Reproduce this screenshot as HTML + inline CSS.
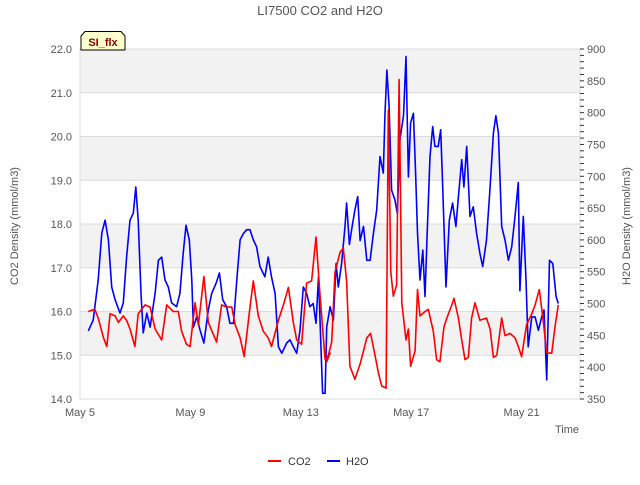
<!DOCTYPE html>
<html><head><meta charset="utf-8"><style>
body{margin:0;background:#fff;}
svg{font-family:"Liberation Sans",sans-serif;}
</style></head><body>
<svg id="chart" width="640" height="480" xmlns="http://www.w3.org/2000/svg"></svg>
<script>
const co2Days=[0.30,0.54,0.66,0.85,0.97,1.09,1.27,1.39,1.57,1.69,1.81,1.99,2.11,2.36,2.54,2.72,2.96,3.14,3.38,3.56,3.68,3.86,3.99,4.17,4.29,4.49,4.65,4.95,5.13,5.31,5.50,5.62,5.80,5.95,6.16,6.28,6.46,6.64,6.82,6.94,7.19,7.37,7.55,7.73,7.85,8.03,8.21,8.39,8.55,8.70,8.88,9.06,
8.94,9.12,9.24,9.42,9.54,9.66,9.78,9.96,10.15,10.27,10.39,10.53,10.69,10.81,10.93,11.09,11.17,11.26,11.35,11.47,11.56,11.66,11.81,11.90,11.98,12.14,12.23,12.32,12.50,12.62,12.80,12.92,13.04,13.19,13.29,13.47,13.55,13.71,13.83,13.95,14.07,14.19,14.31,14.49,14.73,14.86,14.98,15.10,15.28,15.40,15.58,15.76,15.88,16.00,16.18,16.37,16.49,16.64,16.79,16.91,17.09,17.21,17.33];
const co2Values=[16.0,16.05,15.85,15.4,15.2,15.95,15.9,15.75,15.9,15.8,15.6,15.2,15.95,16.15,16.1,15.6,15.35,16.15,16.0,16.0,15.55,15.25,15.2,16.2,15.7,16.8,15.75,15.3,16.15,16.1,16.1,15.7,15.4,14.97,16.1,16.7,15.9,15.55,15.4,15.2,15.8,16.15,16.55,15.75,15.35,15.25,16.65,16.7,17.7,16.35,14.9,15.05,
14.85,15.3,16.9,17.35,17.45,16.7,14.75,14.45,14.8,15.1,15.4,15.5,15.0,14.6,14.3,14.25,20.6,16.9,16.35,16.6,21.3,16.2,15.35,15.6,14.75,15.1,16.5,15.9,16.0,16.05,15.55,14.9,14.85,15.65,15.85,16.15,16.3,15.85,15.35,14.9,14.95,15.85,16.2,15.8,15.85,15.6,14.95,15.0,15.85,15.45,15.5,15.4,15.2,14.97,15.7,15.95,16.15,16.5,15.75,15.05,15.05,15.65,16.15];
const h2oDays=[0.30,0.48,0.66,0.79,0.91,1.03,1.15,1.27,1.45,1.57,1.69,1.81,1.93,2.02,2.11,2.21,2.29,2.42,2.54,2.72,2.84,2.96,3.08,3.20,3.32,3.50,3.62,3.74,3.84,3.96,4.05,4.11,4.23,4.35,4.49,4.65,4.77,4.93,5.05,5.17,5.31,5.43,5.56,5.68,5.80,5.92,6.04,6.16,6.28,6.40,6.52,6.70,6.82,6.94,7.07,7.19,7.31,7.49,7.61,7.73,7.85,7.97,8.09,8.21,8.33,8.45,8.55,8.64,8.72,8.79,
8.88,8.94,9.06,9.18,9.28,9.36,9.48,9.60,9.66,9.76,9.84,9.96,10.06,10.15,10.27,10.39,10.51,10.63,10.75,10.87,10.99,11.05,11.12,11.20,11.29,11.41,11.50,11.59,11.72,11.81,11.90,11.98,12.08,12.16,12.23,12.32,12.42,12.50,12.58,12.68,12.78,12.86,12.98,13.07,13.14,13.26,13.38,13.50,13.62,13.72,13.83,13.91,14.01,14.13,14.25,14.37,14.49,14.59,14.73,14.86,14.98,15.07,15.16,15.28,15.40,15.52,15.64,15.76,15.88,15.94,16.06,16.16,16.24,16.37,16.49,16.61,16.73,16.81,16.91,17.01,17.13,17.25,17.33];
const h2oValues=[457,474,537,611,631,600,526,506,485,501,573,631,642,683,631,516,454,485,463,516,568,573,537,526,501,495,516,579,623,600,537,463,479,458,438,490,516,532,548,506,495,469,469,537,600,610,616,616,600,589,558,542,573,542,516,432,422,438,443,432,422,458,526,516,495,500,469,542,443,359,
359,463,495,474,563,526,563,621,658,593,616,647,668,599,621,568,568,610,647,731,705,799,867,810,678,663,641,757,795,888,699,784,799,705,611,537,584,511,611,731,778,747,747,773,683,526,631,658,621,673,726,683,747,637,652,610,579,558,600,683,768,795,768,621,600,568,589,637,690,520,637,537,432,479,479,458,479,490,380,568,563,511,500];
const leftTicks=[14.0,15.0,16.0,17.0,18.0,19.0,20.0,21.0,22.0];
const rightTicks=[350,400,450,500,550,600,650,700,750,800,850,900];
const xTickDays=[0,4,8,12,16];
const xTickLabels=["May 5","May 9","May 13","May 17","May 21"];

const svg=document.getElementById('chart');
const NS='http://www.w3.org/2000/svg';
const L=80,R=580,T=49,B=399;
const xS=d=>L+d*27.6;
const yL=v=>B-(v-14)/8*(B-T);
const yR=v=>B-(v-350)/550*(B-T);
function mk(tag,attrs,parent){const e=document.createElementNS(NS,tag);for(const k in attrs)e.setAttribute(k,attrs[k]);(parent||svg).appendChild(e);return e;}

const title=mk('text',{x:320,y:15,'text-anchor':'middle','font-size':13,fill:'#555'});
title.textContent='LI7500 CO2 and H2O';



const plot=mk('g',{});


for(let i=0;i<8;i++){
  const band=mk('rect',{x:L,y:yL(i+15),width:R-L,height:yL(i+14)-yL(i+15),fill:(i%2===1)?'#f2f2f2':'#ffffff'},plot);
  
  
}
leftTicks.forEach(v=>{
  const g=mk('line',{x1:L,x2:R,y1:yL(v),y2:yL(v),stroke:'#dcdcdc','stroke-width':1},plot);
  
  
  const t=mk('text',{x:72,y:yL(v)+4,'text-anchor':'end','font-size':11,fill:'#555'});
  t.textContent=v.toFixed(1);
  
  
});
mk('line',{x1:L,x2:L,y1:T,y2:B,stroke:'#ddd'});
mk('line',{x1:L,x2:R,y1:B,y2:B,stroke:'#ddd'});
mk('line',{x1:R,x2:R,y1:T,y2:B,stroke:'#ddd'});
for(let v=350;v<=900;v+=10){
  const tk=mk('line',{x1:R,x2:R+4,y1:yR(v),y2:yR(v),stroke:'#333','stroke-width':1});
  
  
}
rightTicks.forEach(v=>{
  const t=mk('text',{x:587,y:yR(v)+4,'font-size':11,fill:'#555'});
  t.textContent=v;
  
  
});
xTickDays.forEach((d,i)=>{
  const t=mk('text',{x:xS(d),y:416,'text-anchor':'middle','font-size':11,fill:'#555'});
  t.textContent=xTickLabels[i];
  
  
});
const xt=mk('text',{x:579,y:433,'text-anchor':'end','font-size':11,fill:'#555'});
xt.textContent='Time';


const yl=mk('text',{x:0,y:0,'text-anchor':'middle','font-size':11,fill:'#555',transform:'translate(18,226) rotate(-90)'});
yl.textContent='CO2 Density (mmol/m3)';


const yr=mk('text',{x:0,y:0,'text-anchor':'middle','font-size':11,fill:'#555',transform:'translate(630,226) rotate(-90)'});
yr.textContent='H2O Density (mmol/m3)';



const h2oPts=h2oDays.map((d,i)=>xS(d).toFixed(1)+','+yR(h2oValues[i]).toFixed(1)).join(' ');
const h2oLine=mk('polyline',{points:h2oPts,fill:'none',stroke:'#0000ff','stroke-width':1.6,'stroke-linejoin':'round'});


const co2Pts=co2Days.map((d,i)=>xS(d).toFixed(1)+','+yL(co2Values[i]).toFixed(1)).join(' ');
const co2Line=mk('polyline',{points:co2Pts,fill:'none',stroke:'#ff0000','stroke-width':1.6,'stroke-linejoin':'round'});



const tag=mk('g',{});


mk('path',{d:'M81,50 L81,36 L85,31.5 L121,31.5 L125,36 L125,50 Z',fill:'#ffffcc',stroke:'#000','stroke-width':1},tag);
const tt=mk('text',{x:103,y:46,'text-anchor':'middle','font-size':11,'font-weight':'bold',fill:'#8b0000'},tag);
tt.textContent='SI_flx';

const lg1=mk('g',{});


mk('line',{x1:268,x2:281,y1:461,y2:461,stroke:'#ff0000','stroke-width':2},lg1);
const l1=mk('text',{x:288,y:465,'font-size':11,fill:'#333'},lg1);l1.textContent='CO2';
const lg2=mk('g',{});


mk('line',{x1:327,x2:340,y1:461,y2:461,stroke:'#0000ff','stroke-width':2},lg2);
const l2=mk('text',{x:346,y:465,'font-size':11,fill:'#333'},lg2);l2.textContent='H2O';
</script>
</body></html>
